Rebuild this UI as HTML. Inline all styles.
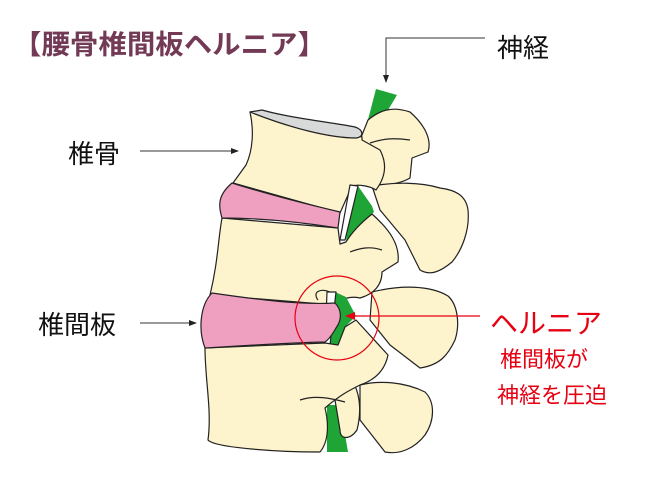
<!DOCTYPE html>
<html><head><meta charset="utf-8"><style>
html,body{margin:0;padding:0;background:#fff;}
svg{display:block;}
text{font-family:"Liberation Sans","Noto Sans CJK JP",sans-serif;}
</style></head><body>
<svg width="672" height="480" viewBox="0 0 672 480" xmlns="http://www.w3.org/2000/svg">
<defs>
<marker id="ah" markerWidth="8" markerHeight="8" refX="7" refY="4" orient="auto" markerUnits="userSpaceOnUse"><path d="M0,1 L8,4 L0,7 Z" fill="#222"/></marker>
<marker id="ahr" markerWidth="10" markerHeight="10" refX="9" refY="5" orient="auto" markerUnits="userSpaceOnUse"><path d="M0,1 L10,5 L0,9 Z" fill="#e60012"/></marker>
</defs>
<text x="13" y="54" font-size="27" font-weight="bold" fill="#733a55" textLength="313" lengthAdjust="spacingAndGlyphs">【腰骨椎間板ヘルニア】</text>
<text x="497" y="57" font-size="26" fill="#111">神経</text>
<polyline points="485,38 386,38 386,82" fill="none" stroke="#333" stroke-width="1" marker-end="url(#ah)"/>
<text x="68" y="163" font-size="26" fill="#111">椎骨</text>
<line x1="140" y1="151" x2="238" y2="151" stroke="#333" stroke-width="1" marker-end="url(#ah)"/>
<text x="38" y="334" font-size="26" fill="#111">椎間板</text>
<line x1="140" y1="323" x2="196" y2="323" stroke="#333" stroke-width="1" marker-end="url(#ah)"/>

<g stroke="#222" stroke-width="1.2" stroke-linejoin="round">
<polygon points="376,89 397,95 372,137 364,135" fill="#1fa535" stroke="none"/>
<polygon points="327,405 340,405 348,452 327,452" fill="#1fa535" stroke="none"/>
<path d="M368,120 C380,110 392,106 410,112 C425,125 432,140 428,152 L412,158 L410,178 C400,184 385,186 365,184 L360,140 Z" fill="#fdf3cc"/>
<path d="M372,186 C395,182 420,182 440,188 C455,190 466,195 468,210 C470,230 462,250 452,262 C440,272 430,276 420,270 L405,240 L380,210 Z" fill="#fdf3cc"/>
<path d="M372,292 C400,285 430,285 448,296 C458,305 460,325 455,340 C448,355 440,365 420,368 L390,345 L370,320 Z" fill="#fdf3cc"/>
<path d="M360,385 C380,380 405,382 425,392 C435,402 435,420 425,435 C415,448 400,455 385,452 L360,420 Z" fill="#fdf3cc"/>
<path d="M350,378 C360,390 362,410 357,430 C350,440 340,440 340,430 L335,400 Z" fill="#fdf3cc"/>
<path d="M250,112 C254,130 253,150 246,165 L233,183 L340,213 L352,186 C358,184 370,186 376,190 C385,178 388,165 380,150 L362,140 L362,137 C330,128 290,118 262,111 Z" fill="#fdf3cc"/>
<path d="M250,112 L262,110 C290,118 330,122 355,127 C364,130 364,137 356,138 C330,138 290,128 250,112 Z" fill="#d8d9d9"/>
<path d="M370,143 C385,138 395,138 410,140" fill="none"/>
<polygon points="350,185 358,186 372,206 374,212 360,224 346,242" fill="#1fa535" stroke="none"/>
<path d="M350,185 L358,186 L345,240 L340,240 Z" fill="#fff"/>
<path d="M222,218 C218,240 218,262 210,295 L335,305 C343,298 350,296 360,298 C374,294 382,285 382,272 L398,262 C400,245 390,230 372,214 C362,222 352,232 346,242 L340,244 L338,228 Z" fill="#fdf3cc"/>
<path d="M350,252 C360,248 370,246 382,250" fill="none"/>
<path d="M232,183 C270,195 310,205 340,212 L338,228 C300,222 260,218 222,218 C218,205 218,195 232,183 Z" fill="#efa0c0"/>
<polygon points="335,292 346,297 356,316 345,327 338,345 330,345" fill="#1fa535" stroke="none"/>
<path d="M327,292 L336,292 L330,345 L325,343 Z" fill="#fff"/>
<path d="M205,348 C205,380 212,410 208,440 C215,448 280,452 320,452 C330,440 328,420 325,408 C340,395 350,390 360,385 C375,380 385,370 388,355 L356,320 L345,327 L338,345 L325,343 Z" fill="#fdf3cc"/>
<path d="M300,400 C315,395 330,398 345,402" fill="none"/>
<path d="M318,300 C312,292 320,288 330,292" fill="none"/>
<path d="M212,293 C260,300 300,305 335,303 C342,310 342,320 336,328 C332,335 328,340 325,342 C280,343 240,346 205,348 C198,330 200,305 212,293 Z" fill="#efa0c0"/>
</g>
<circle cx="337" cy="318" r="42" fill="none" stroke="#e60012" stroke-width="1.2"/>
<line x1="480" y1="316" x2="346" y2="316" stroke="#e60012" stroke-width="1.2" marker-end="url(#ahr)"/>
<text x="490" y="333" font-size="28" fill="#e60012">ヘルニア</text>
<text x="500" y="367" font-size="22" fill="#e60012">椎間板が</text>
<text x="497" y="403" font-size="22" fill="#e60012">神経を圧迫</text>
</svg>
</body></html>
